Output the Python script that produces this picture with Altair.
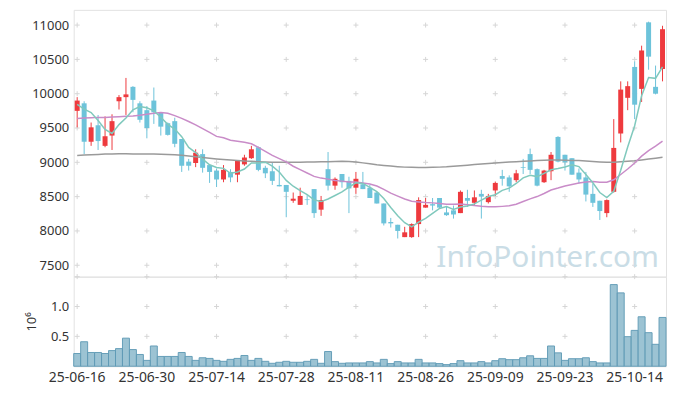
import altair as alt
import pandas as pd

dates = [
    "25-06-16", "25-06-17", "25-06-18", "25-06-19", "25-06-20", "25-06-23", "25-06-24", "25-06-25", "25-06-26", "25-06-27",
    "25-06-30", "25-07-01", "25-07-02", "25-07-03", "25-07-04", "25-07-07", "25-07-08", "25-07-09", "25-07-10", "25-07-11",
    "25-07-14", "25-07-15", "25-07-16", "25-07-17", "25-07-18", "25-07-21", "25-07-22", "25-07-23", "25-07-24", "25-07-25",
    "25-07-28", "25-07-29", "25-07-30", "25-07-31", "25-08-01", "25-08-04", "25-08-05", "25-08-06", "25-08-07", "25-08-08",
    "25-08-11", "25-08-12", "25-08-13", "25-08-14", "25-08-18", "25-08-19", "25-08-20", "25-08-21", "25-08-22", "25-08-25",
    "25-08-26", "25-08-27", "25-08-28", "25-08-29", "25-09-01", "25-09-02", "25-09-03", "25-09-04", "25-09-05", "25-09-08",
    "25-09-09", "25-09-10", "25-09-11", "25-09-12", "25-09-15", "25-09-16", "25-09-17", "25-09-18", "25-09-19", "25-09-22",
    "25-09-23", "25-09-24", "25-09-25", "25-09-26", "25-09-29", "25-09-30", "25-10-01", "25-10-02", "25-10-10", "25-10-13",
    "25-10-14", "25-10-15", "25-10-16", "25-10-17", "25-10-20",
]

open_ = [
    9750, 9860, 9300, 9540, 9240, 9390, 9890, 9950, 10100, 9860,
    9760, 9900, 9720, 9570, 9600, 9340, 9010, 8990, 9120, 8960,
    8880, 8750, 8860, 8820, 8970, 9060, 9220, 8920, 8870, 8670,
    8670, 8440, 8380, 8460, 8610, 8310, 8900, 8660, 8830, 8730,
    8630, 8680, 8630, 8560, 8400, 8130, 8090, 7910, 7910, 8100,
    8340, 8390, 8480, 8270, 8300, 8260, 8480, 8410, 8540, 8420,
    8590, 8800, 8780, 8740, 8930, 9120, 8900, 8710, 8870, 9370,
    9110, 9060, 8850, 8780, 8540, 8440, 8260, 8570, 9420, 9940,
    10390, 10070, 11040, 10100, 10360,
]
high = [
    9950, 9890, 9580, 9690, 9670, 9700, 9980, 10230, 10110, 9890,
    9820, 10090, 9730, 9580, 9650, 9340, 9050, 9190, 9190, 8960,
    8910, 8960, 8900, 9030, 9110, 9240, 9230, 8950, 8990, 8950,
    8670, 8560, 8630, 8520, 8610, 8510, 9150, 8780, 8830, 8790,
    8860, 8860, 8670, 8570, 8400, 8190, 8090, 8060, 8110, 8490,
    8480, 8480, 8480, 8350, 8370, 8590, 8600, 8590, 8600, 8540,
    8720, 8890, 8810, 8890, 9050, 9200, 8910, 8890, 9150, 9380,
    9110, 9060, 8910, 8860, 8690, 8440, 8460, 9630, 10180, 10180,
    10470, 10700, 11050, 10410, 10990,
]
low = [
    9510, 9120, 9240, 9180, 9220, 9180, 9770, 9690, 9730, 9580,
    9350, 9560, 9390, 9390, 9220, 8860, 8880, 8930, 8850, 8700,
    8640, 8710, 8710, 8710, 8950, 9050, 8870, 8770, 8670, 8650,
    8200, 8410, 8380, 8380, 8190, 8220, 8590, 8600, 8630, 8260,
    8540, 8610, 8480, 8400, 8080, 8050, 7890, 7910, 7900, 7910,
    8340, 8300, 8330, 8220, 8180, 8260, 8350, 8370, 8180, 8400,
    8510, 8660, 8570, 8710, 8830, 8830, 8650, 8700, 8740, 9000,
    8880, 8820, 8690, 8430, 8350, 8160, 8200, 8560, 9290, 9760,
    9630, 9880, 10350, 9990, 10180,
]
close = [
    9900, 9300, 9510, 9310, 9380, 9600, 9950, 9990, 9910, 9620,
    9500, 9730, 9520, 9400, 9270, 8950, 8950, 9140, 8920, 8860,
    8750, 8890, 8780, 9020, 9070, 9190, 8890, 8840, 8730, 8650,
    8570, 8470, 8510, 8450, 8260, 8450, 8660, 8760, 8710, 8620,
    8760, 8610, 8480, 8400, 8110, 8110, 8000, 7980, 8100, 8450,
    8380, 8370, 8340, 8230, 8240, 8570, 8440, 8490, 8500, 8510,
    8700, 8760, 8650, 8840, 8920, 8890, 8660, 8880, 9110, 9010,
    9000, 8820, 8750, 8530, 8410, 8290, 8450, 9210, 10060, 10110,
    9840, 10630, 10540, 10000, 10940,
]
ma5 = [
    9845, 9775, 9725, 9610, 9480, 9420, 9550, 9646, 9766, 9814,
    9794, 9750, 9656, 9554, 9484, 9374, 9218, 9142, 9046, 8964,
    8924, 8912, 8840, 8860, 8902, 8990, 8990, 9002, 8944, 8860,
    8736, 8652, 8586, 8530, 8452, 8428, 8466, 8516, 8568, 8640,
    8702, 8692, 8636, 8574, 8472, 8342, 8220, 8120, 8060, 8128,
    8182, 8256, 8328, 8354, 8312, 8350, 8364, 8394, 8448, 8502,
    8528, 8592, 8624, 8692, 8774, 8812, 8792, 8838, 8892, 8910,
    8932, 8964, 8938, 8822, 8702, 8560, 8486, 8578, 8884, 9224,
    9534, 9970, 10236, 10224, 10390,
]
ma20 = [
    9640, 9645, 9650, 9655, 9655, 9660, 9665, 9670, 9675, 9685,
    9700, 9715, 9725, 9715, 9680, 9640, 9595, 9545, 9490, 9436,
    9378, 9358, 9321, 9307, 9291, 9271, 9218, 9160, 9101, 9053,
    9006, 8943, 8893, 8845, 8795, 8770, 8755, 8736, 8726, 8714,
    8714, 8700, 8685, 8654, 8606, 8552, 8508, 8465, 8433, 8423,
    8414, 8409, 8400, 8389, 8388, 8394, 8383, 8370, 8359, 8354,
    8351, 8358, 8367, 8389, 8429, 8468, 8501, 8546, 8597, 8625,
    8656, 8678, 8699, 8714, 8722, 8708, 8709, 8745, 8823, 8903,
    8990, 9090, 9170, 9235, 9310,
]
ma_long = [
    9100, 9105, 9110, 9115, 9120, 9122, 9125, 9125, 9123, 9122,
    9120, 9120, 9118, 9115, 9110, 9102, 9092, 9080, 9070, 9060,
    9050, 9042, 9035, 9028, 9020, 9015, 9010, 9005, 9002, 9000,
    9000, 9000, 9002, 9004, 9006, 9008, 9010, 9013, 9015, 9012,
    9005, 8992, 8978, 8965, 8955, 8945, 8937, 8930, 8928, 8926,
    8925, 8927, 8930, 8935, 8943, 8950, 8958, 8967, 8975, 8983,
    8990, 8998, 9005, 9010, 9015, 9020, 9025, 9030, 9035, 9035,
    9032, 9028, 9025, 9020, 9012, 9005, 9000, 9002, 9008, 9015,
    9022, 9035, 9048, 9060, 9073,
]
volume = [
    213000, 410000, 230000, 230000, 213000, 262000, 295000, 470000, 279000, 197000,
    98000, 339000, 164000, 164000, 164000, 230000, 164000, 98000, 142000, 131000,
    98000, 82000, 115000, 131000, 180000, 98000, 131000, 82000, 49000, 66000,
    82000, 66000, 66000, 82000, 115000, 49000, 246000, 77000, 49000, 55000,
    55000, 55000, 77000, 55000, 115000, 44000, 77000, 55000, 55000, 115000,
    55000, 55000, 44000, 27000, 44000, 93000, 55000, 55000, 77000, 55000,
    93000, 126000, 110000, 110000, 142000, 175000, 131000, 131000, 339000, 224000,
    98000, 126000, 126000, 142000, 77000, 55000, 55000, 1367000, 1228000, 495000,
    600000, 828000, 562000, 367000, 817000,
]

tick_dates = ["25-06-16", "25-06-30", "25-07-14", "25-07-28", "25-08-11",
              "25-08-26", "25-09-09", "25-09-23", "25-10-14"]
price_ticks = [7500, 8000, 8500, 9000, 9500, 10000, 10500, 11000]
vol_ticks = [500000, 1000000, 1500000]

RED = "#ee3a3e"
BLUE = "#6dc3da"
FONT = "Noto Sans"
W = 595

df = pd.DataFrame({
    "date": dates, "open": open_, "high": high, "low": low, "close": close,
    "ma5": ma5, "ma20": ma20, "malong": ma_long, "volume": volume,
})
df["dir"] = ["up" if c >= o else "down" for o, c in zip(open_, close)]

xscale = alt.Scale(domain=dates, paddingInner=0, paddingOuter=0)
pscale = alt.Scale(domain=[7334, 11222], nice=False, zero=False)
vscale = alt.Scale(domain=[0, 1500000], nice=False)
cscale = alt.Scale(domain=["up", "down"], range=[RED, BLUE])

x_up = alt.X("date:O", sort=dates, scale=xscale, axis=None)

price_axis = alt.Axis(values=price_ticks, format="d", labelOverlap=False, title=None,
                      domain=False, ticks=False, grid=False,
                      labelFontSize=13, labelColor="#333333", labelFont=FONT, labelPadding=5)


def py(field):
    return alt.Y(field, type="quantitative", scale=pscale, axis=price_axis, title=None)


cross_shape = "M-1,0L1,0M0,-1L0,1"

cross_up_df = pd.DataFrame([(d, p) for d in tick_dates for p in price_ticks], columns=["date", "price"])
crosses_up = alt.Chart(cross_up_df).mark_point(
    shape=cross_shape, size=25, filled=False, strokeWidth=1, color="#d6d6d6", opacity=1
).encode(x=x_up, y=py("price"))

wicks = alt.Chart(df).mark_rule(strokeWidth=1).encode(
    x=x_up, y=py("low"), y2="high:Q",
    color=alt.Color("dir:N", scale=cscale, legend=None),
)
bodies = alt.Chart(df).mark_bar(size=5).encode(
    x=x_up, y=py("open"), y2="close:Q",
    color=alt.Color("dir:N", scale=cscale, legend=None),
)
line_long = alt.Chart(df).mark_line(color="#9a9a9a", strokeWidth=1.5).encode(x=x_up, y=py("malong"))
line20 = alt.Chart(df).mark_line(color="#c98cc8", strokeWidth=1.5).encode(x=x_up, y=py("ma20"))
line5 = alt.Chart(df).mark_line(color="#80c9bd", strokeWidth=1.5).encode(x=x_up, y=py("ma5"))

watermark = alt.Chart(pd.DataFrame({"t": ["InfoPointer.com"]})).mark_text(
    align="right", baseline="alphabetic", font=FONT, fontSize=30, color="#cadde6"
).encode(text="t:N", x=alt.value(588), y=alt.value(258))

upper = alt.layer(crosses_up, watermark, wicks, bodies, line_long, line20, line5).properties(
    width=W, height=268)

x_low = alt.X("date:O", sort=dates, scale=xscale,
              axis=alt.Axis(values=tick_dates, labelAngle=0, ticks=False, domain=False, grid=False,
                            title=None, labelFontSize=14, labelColor="#333333", labelFont=FONT,
                            labelPadding=4, labelOverlap=False))

vol_axis = alt.Axis(values=[500000, 1000000], title="10⁶", titleFontSize=13, titleFont=FONT,
                    titleFontWeight="normal", titleColor="#333333", titlePadding=12,
                    domain=False, ticks=False, grid=False, labelOverlap=False,
                    labelExpr="format(datum.value / 1000000, '.1f')",
                    labelFontSize=13, labelColor="#333333", labelFont=FONT, labelPadding=5)

cross_low_df = pd.DataFrame([(d, v) for d in tick_dates for v in vol_ticks], columns=["date", "vol"])
crosses_low = alt.Chart(cross_low_df).mark_point(
    shape=cross_shape, size=25, filled=False, strokeWidth=1, color="#d6d6d6", opacity=1
).encode(x=x_low, y=alt.Y("vol:Q", scale=vscale, axis=vol_axis))

vol_bars = alt.Chart(df).mark_bar(color="#97c0d1", stroke="#5f9ab5", strokeWidth=1, opacity=0.95).encode(
    x=x_low, y=alt.Y("volume:Q", scale=vscale, axis=vol_axis))

lower = alt.layer(crosses_low, vol_bars).properties(width=W, height=90)

chart = alt.vconcat(upper, lower, spacing=0, bounds="flush").properties(
    padding={"left": 17, "top": 0, "right": 2, "bottom": 2}
).configure_view(stroke="#e2e2e2").configure_concat(spacing=0).configure_axis(labelOverlap=False)

chart.save("out.html", embed_options={"renderer": "svg", "actions": False})
